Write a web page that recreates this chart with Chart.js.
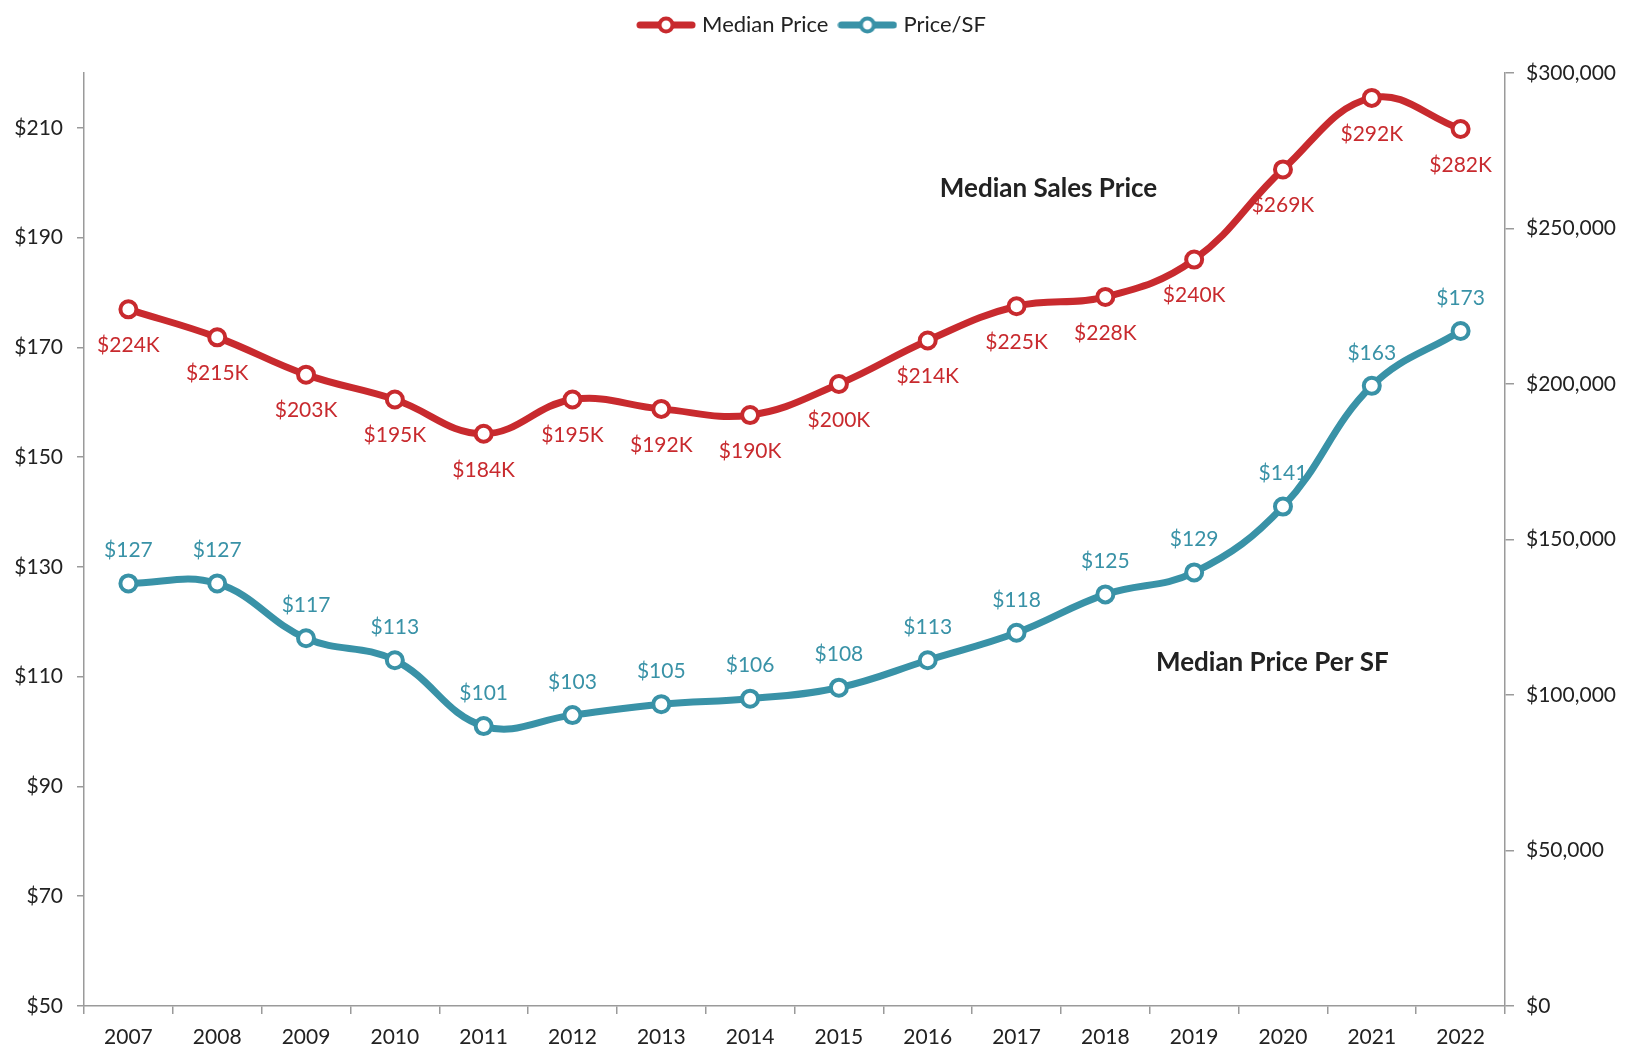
<!DOCTYPE html>
<html>
<head>
<meta charset="utf-8">
<script src="https://cdn.jsdelivr.net/npm/chart.js@4/dist/chart.umd.min.js"></script>
<style>
  body { margin: 0; background: #fff; }
  #wrap { width: 1627px; height: 1054px; position: relative; }
</style>
</head>
<body>
<div id="wrap"><canvas id="myChart"></canvas></div>
<script>
// data arrays
const years = ["2007", "2008", "2009", "2010", "2011", "2012", "2013", "2014",
  "2015", "2016", "2017", "2018", "2019", "2020", "2021", "2022"];
const medianPrice = [224000, 215000, 203000, 195000, 184000, 195000, 192000, 190000,
  200000, 214000, 225000, 228000, 240000, 269000, 292000, 282000];
const pricePerSF = [127, 127, 117, 113, 101, 103, 105, 106,
  108, 113, 118, 125, 129, 141, 163, 173];
const leftTicks = [50, 70, 90, 110, 130, 150, 170, 190, 210];
const rightTicks = [0, 50000, 100000, 150000, 200000, 250000, 300000];

const RED = "rgb(200, 42, 46)";
const TEAL = "rgb(57, 146, 167)";
const FONT = "Lato, 'Open Sans', sans-serif";
const AXIS = "#9a9a9a";

// legend marker: line with a hollow circle
const legendMarker = (color) => {
  const c = document.createElement("canvas");
  c.width = 60;
  c.height = 22;
  const g = c.getContext("2d");
  g.strokeStyle = color;
  g.lineWidth = 7;
  g.lineCap = "round";
  g.beginPath();
  g.moveTo(4, 11);
  g.lineTo(56, 11);
  g.stroke();
  g.beginPath();
  g.arc(30, 11, 6.5, 0, Math.PI * 2);
  g.fillStyle = "#fff";
  g.fill();
  g.lineWidth = 4;
  g.stroke();
  return c;
};

const fmtMoney = v => "$" + v.toLocaleString("en-US");

// value labels above / below the points
const pointLabels = {
  id: "pointLabels",
  afterDatasetsDraw(chart) {
    const ctx = chart.ctx;
    ctx.save();
    ctx.font = "21px " + FONT;
    ctx.textAlign = "center";
    ctx.textBaseline = "middle";
    chart.data.datasets.forEach((ds, i) => {
      const meta = chart.getDatasetMeta(i);
      meta.data.forEach((pt, j) => {
        const v = ds.data[j];
        ctx.fillStyle = ds.borderColor;
        if (ds.yAxisID === "yRight") {
          ctx.fillText("$" + Math.round(v / 1000) + "K", pt.x, pt.y + 36);
        } else {
          ctx.fillText("$" + v, pt.x, pt.y - 33);
        }
      });
    });
    ctx.restore();
  }
};

// bold series captions inside the plot
const captions = {
  id: "captions",
  afterDatasetsDraw(chart) {
    const ctx = chart.ctx;
    const x = chart.scales.x;
    ctx.save();
    ctx.font = "bold 26px " + FONT;
    ctx.fillStyle = "#222";
    ctx.textAlign = "center";
    ctx.textBaseline = "middle";
    ctx.fillText("Median Sales Price", x.getPixelForValue(10.36), chart.scales.yRight.getPixelForValue(262700));
    ctx.fillText("Median Price Per SF", x.getPixelForValue(12.88), chart.scales.yLeft.getPixelForValue(112.5));
    ctx.restore();
  }
};

// make the legend box tall enough so the plot starts lower
const legendHeight = {
  id: "legendHeight",
  beforeLayout(chart) {
    const lg = chart.legend;
    if (lg && !lg._tallFit) {
      const fit = lg.fit;
      lg.fit = function () {
        fit.call(this);
        this.height = 73;
      };
      lg._tallFit = true;
    }
  }
};

const generateGraph = () => {
  let ctx = document.getElementById("myChart").getContext("2d");
  let myChart = new Chart(ctx, {
    type: "line",
    data: {
      labels: years,
      datasets: [
        {
          label: "Median Price",
          data: medianPrice,
          yAxisID: "yRight",
          borderColor: RED,
          pointBorderColor: RED
        },
        {
          label: "Price/SF",
          data: pricePerSF,
          yAxisID: "yLeft",
          borderColor: TEAL,
          pointBorderColor: TEAL
        }
      ]
    },
    options: {
      responsive: true,
      maintainAspectRatio: false,
      animation: false,
      layout: { padding: 0 },
      elements: {
        line: { borderWidth: 7, tension: 0.4 },
        point: { radius: 8, borderWidth: 4, backgroundColor: "#fff", hoverRadius: 8, pointStyle: "circle" }
      },
      plugins: {
        tooltip: { enabled: false },
        legend: {
          position: "top",
          labels: {
            usePointStyle: true,
            pointStyleWidth: 50,
            color: "#222",
            font: { family: FONT, size: 22 },
            padding: 14,
            generateLabels: (chart) => chart.data.datasets.map((ds, i) => ({
              text: ds.label,
              pointStyle: legendMarker(ds.borderColor),
              fillStyle: ds.borderColor,
              strokeStyle: ds.borderColor,
              fontColor: "#222",
              lineWidth: 0,
              datasetIndex: i,
              hidden: false
            }))
          }
        }
      },
      scales: {
        x: {
          offset: true,
          grid: { display: true, drawOnChartArea: false, offset: true, tickLength: 8, color: AXIS, lineWidth: 1.5 },
          border: { color: AXIS, width: 1.5 },
          ticks: { color: "#222", font: { family: FONT, size: 21 }, padding: 11, maxRotation: 0 },
          afterFit: s => { s.height = 48; }
        },
        yLeft: {
          position: "left",
          min: 50,
          max: 220,
          grid: { drawOnChartArea: false, tickLength: 7, color: AXIS, lineWidth: 1.5 },
          border: { color: AXIS, width: 1.5 },
          ticks: { color: "#222", font: { family: FONT, size: 21 }, padding: 14, callback: v => "$" + v },
          afterBuildTicks: axis => { axis.ticks = leftTicks.map(v => ({ value: v })); },
          afterFit: s => { s.width = 84; }
        },
        yRight: {
          position: "right",
          min: 0,
          max: 300000,
          grid: { drawOnChartArea: false, tickLength: 9, color: AXIS, lineWidth: 1.5 },
          border: { color: AXIS, width: 1.5 },
          ticks: { color: "#222", font: { family: FONT, size: 21 }, padding: 12, callback: v => fmtMoney(v) },
          afterBuildTicks: axis => { axis.ticks = rightTicks.map(v => ({ value: v })); },
          afterFit: s => { s.width = 122; }
        }
      }
    },
    plugins: [legendHeight, pointLabels, captions]
  });
};

generateGraph();
</script>
</body>
</html>
